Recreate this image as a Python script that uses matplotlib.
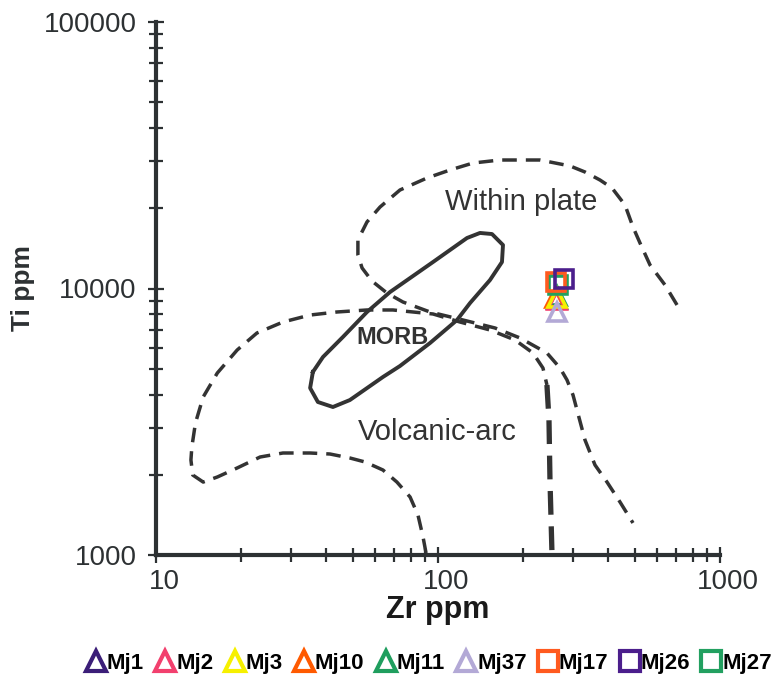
import matplotlib
matplotlib.use("Agg")
import matplotlib.pyplot as plt
from matplotlib.lines import Line2D
import matplotlib.transforms as mtransforms

plt.rcParams['font.family'] = ['Liberation Sans', 'DejaVu Sans']

# ---- field boundaries (Zr ppm, Ti ppm) ----
morb_zr = [36.0, 39.1, 46.0, 56.0, 67.6, 96.0, 126.7, 140.9, 155.4, 170.0, 168.6, 152.9,
           129.9, 116.8, 93.7, 73.3, 63.8, 48.7, 42.4, 37.5, 35.2, 36.0]
morb_ti = [4861, 5534, 6577, 8163, 9700, 12570, 15470, 16160, 16010, 14560, 12570, 10760,
           8820, 7617, 6244, 5119, 4656, 3815, 3592, 3751, 4232, 4861]

arc_zr = [90.7, 88.5, 84.9, 79.6, 71.5, 63.8, 55.1, 48.7, 41.4, 35.2, 28.2, 23.4, 19.4, 16.5,
          14.7, 13.5, 13.3, 13.4, 13.8, 14.7, 16.5, 19.4, 22.8, 28.2, 35.2, 43.8, 56.0, 69.2,
          96.0, 119.7, 152.9, 187.5, 217.2, 235.6, 243.4]
arc_ti = [1017, 1168, 1413, 1651, 1878, 2084, 2234, 2312, 2393, 2414, 2414, 2332, 2121, 1962,
          1878, 1996, 2272, 2543, 3128, 3916, 4819, 5877, 6808, 7485, 7952, 8163, 8306, 8306,
          8024, 7485, 6988, 6410, 5728, 5031, 4345]

arc_split_zr = [243.4, 247.5, 249.5, 253.6]
arc_split_ti = [4345, 3211, 1911, 1017]

wpb_zr = [704.0, 638.3, 564.8, 520.3, 491.4, 460.4, 414.0, 375.4, 332.1, 293.9, 229.9, 165.9,
          133.1, 110.3, 91.4, 73.3, 62.3, 56.0, 52.0, 52.0, 53.8, 58.3, 65.9, 75.1, 93.7,
          122.7, 159.3, 195.4, 243.4, 270.8, 286.7, 301.1, 311.1, 332.1, 360.3, 397.5, 441.9,
          491.4]
wpb_ti = [8674, 10306, 12250, 14820, 17010, 20570, 23830, 25530, 27360, 28830, 30350, 30350,
          29570, 27840, 25980, 23420, 20220, 17770, 15210, 13360, 11940, 10670, 9619, 8899,
          8163, 7617, 7109, 6521, 5728, 5031, 4537, 3985, 3500, 2701, 2177, 1878, 1581, 1319]

# ---- field labels (Zr, Ti) ----
field_names = ['MORB', 'Within plate', 'Volcanic-arc']
field_zr = [69.2, 196.8, 99.2]
field_ti = [6521, 21120, 2894]

# ---- samples ----
samples = ['Mj1', 'Mj2', 'Mj3', 'Mj10', 'Mj11', 'Mj37', 'Mj17', 'Mj26', 'Mj27']
zr = [264.0, 264.2, 264.2, 261.0, 264.0, 264.2, 262.0, 279.9, 266.4]
ti = [9130, 9053, 9213, 9250, 9380, 8163, 10580, 10850, 10310]
markers = ['^', '^', '^', '^', '^', '^', 's', 's', 's']
colors = ['#3b1e78', '#f2406e', '#f6f000', '#ff5a00', '#1f9e5e', '#b3a9d6',
          '#ff5a1f', '#4b1e8c', '#22a060']
draw_order = [0, 4, 3, 1, 2, 5, 8, 6, 7]

W, H = 784, 685
fig = plt.figure(figsize=(W / 100, H / 100), dpi=100)
ax = fig.add_axes([156 / W, 1 - 555 / H, (720 - 156) / W, (555 - 22) / H])
ax.set_xscale('log')
ax.set_yscale('log')
ax.set_xlim(10, 1000)
ax.set_ylim(1000, 100000)

dark = '#2d3133'
for s in ['top', 'right']:
    ax.spines[s].set_visible(False)
for s in ['left', 'bottom']:
    ax.spines[s].set_linewidth(3.0)
    ax.spines[s].set_color(dark)
    ax.spines[s].set_capstyle('projecting')

ax.tick_params(which='both', direction='inout', color=dark, width=1.6)
ax.tick_params(which='major', length=12, labelsize=20, labelcolor='#2d3133', pad=4)
ax.tick_params(which='minor', length=10)
ax.tick_params(axis='y', which='major', pad=8)
ax.set_xticks([10, 100, 1000])
ax.set_xticklabels(['10', '100', '1000'])
ax.set_yticks([1000, 10000, 100000])
ax.set_yticklabels(['1000', '10000', '100000'])
ax.xaxis.set_minor_formatter(plt.NullFormatter())
ax.yaxis.set_minor_formatter(plt.NullFormatter())
off = mtransforms.ScaledTranslation(8 / 100, 0, fig.dpi_scale_trans)
for lab in ax.get_xticklabels():
    lab.set_transform(lab.get_transform() + off)

ax.set_xlabel('Zr ppm', fontsize=22, fontweight='bold', color='#1a1a1a', labelpad=0)
ax.set_ylabel('Ti ppm', fontsize=19, fontweight='bold', color='#2d3133', labelpad=6)

lc = '#333333'
ax.plot(wpb_zr, wpb_ti, color=lc, lw=2.5, ls=(0, (4.2, 2.6)), zorder=2)
ax.plot(arc_zr, arc_ti, color=lc, lw=2.5, ls=(0, (4.2, 2.6)), zorder=2)
ax.plot(arc_split_zr, arc_split_ti, color=lc, lw=3.8, ls=(0, (4.5, 2.2)), zorder=2)
ax.plot(morb_zr, morb_ti, color=lc, lw=2.8, ls='-', zorder=2)

ax.text(field_zr[0], field_ti[0], field_names[0], fontsize=17, fontweight='bold',
        color='#333333', ha='center', va='center')
ax.text(field_zr[1], field_ti[1], field_names[1], fontsize=21, color='#333333',
        ha='center', va='center')
ax.text(field_zr[2], field_ti[2], field_names[2], fontsize=21, color='#333333',
        ha='center', va='center')

for i in draw_order:
    ax.plot([zr[i]], [ti[i]], ls='none', marker=markers[i], ms=12.5,
            mfc='none', mec=colors[i], mew=2.6, zorder=5 + draw_order.index(i))

handles = [Line2D([], [], ls='none', marker=markers[i], ms=14, mfc='none',
                  mec=colors[i], mew=3.0) for i in range(len(samples))]
fig.legend(handles, samples, loc='center', bbox_to_anchor=(429 / W, 1 - 663 / H),
           ncol=9, frameon=False, handlelength=0.9, handletextpad=0.05,
           columnspacing=0.5, borderpad=0,
           prop={'family': 'Liberation Sans', 'weight': 'bold', 'size': 16})

fig.savefig('out.png', dpi=100)
